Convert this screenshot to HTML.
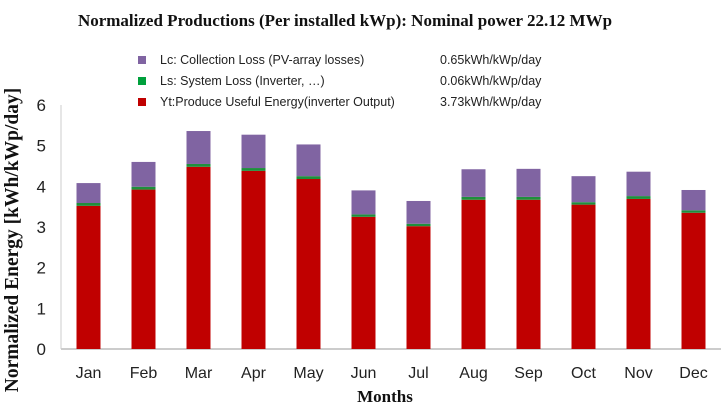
<!DOCTYPE html>
<html><head><meta charset="utf-8"><style>
html,body{margin:0;padding:0;background:#fff;}
body{width:721px;height:404px;overflow:hidden;}
svg text{font-family:"Liberation Sans",sans-serif;}
.serif{font-family:"Liberation Serif",serif;font-weight:bold;}
</style></head><body>
<svg id="chart" width="721" height="404">
<text class="serif" x="345" y="26" text-anchor="middle" font-size="17" fill="#111">Normalized Productions (Per installed kWp): Nominal power 22.12 MWp</text>
<g>
 <g><rect x="138" y="56" width="8" height="8" fill="#8064a2"/><text x="160" y="64" font-size="12.5" fill="#222">Lc: Collection Loss (PV-array losses)</text><text x="440" y="64" font-size="12.5" fill="#222">0.65kWh/kWp/day</text></g>
 <g><rect x="138" y="77" width="8" height="8" fill="#00a03c"/><text x="160" y="85" font-size="12.5" fill="#222">Ls: System Loss (Inverter, …)</text><text x="440" y="85" font-size="12.5" fill="#222">0.06kWh/kWp/day</text></g>
 <g><rect x="138" y="98" width="8" height="8" fill="#c00000"/><text x="160" y="106" font-size="12.5" fill="#222">Yt:Produce Useful Energy(inverter Output)</text><text x="440" y="106" font-size="12.5" fill="#222">3.73kWh/kWp/day</text></g>
</g>
<text class="serif" transform="translate(18,240) rotate(-90)" text-anchor="middle" font-size="19.5" fill="#111">Normalized Energy  [kWh/kWp/day]</text>
<text class="serif" x="385" y="402" text-anchor="middle" font-size="17" fill="#111">Months</text>
<g id="plot"></g>
</svg>
<script>
const months=["Jan","Feb","Mar","Apr","May","Jun","Jul","Aug","Sep","Oct","Nov","Dec"];
const yt=[3.52,3.92,4.48,4.38,4.18,3.25,3.02,3.67,3.67,3.55,3.69,3.35];
const ls=[0.07,0.07,0.07,0.07,0.07,0.06,0.06,0.07,0.07,0.06,0.07,0.06];
const lc=[0.49,0.61,0.81,0.82,0.78,0.59,0.56,0.68,0.69,0.64,0.60,0.50];
const yTicks=[0,1,2,3,4,5,6];
const X0=61,X1=721,Y0=349,Y6=105;
const yS=v=>Y0-(v/6)*(Y0-Y6);
const bw=(X1-X0)/months.length;
const xC=i=>X0+bw*(i+0.5);
const g=document.getElementById('plot');
const NS="http://www.w3.org/2000/svg";
function mk(t,a){const e=document.createElementNS(NS,t);for(const k in a)e.setAttribute(k,a[k]);g.appendChild(e);return e;}
yTicks.forEach(v=>{const t=mk('text',{x:46,y:yS(v)+6,'text-anchor':'end','font-size':17,fill:'#222'});t.textContent=v;

});
const ax=mk('line',{x1:X0,x2:X1,y1:Y0,y2:Y0,stroke:'#bbb','stroke-width':1.5});


const ay=mk('line',{x1:X0,x2:X0,y1:Y6,y2:Y0,stroke:'#ccc','stroke-width':1});


months.forEach((m,i)=>{
 const x=xC(i)-12,w=24;
 const segs=[[0,yt[i],'#c00000','bar-yt-'],[yt[i],yt[i]+ls[i],'#1e8f3c','bar-ls-'],[yt[i]+ls[i],yt[i]+ls[i]+lc[i],'#8064a2','bar-lc-']];
 segs.forEach(s=>{const r=mk('rect',{x:x,y:yS(s[1]),width:w,height:yS(s[0])-yS(s[1]),fill:s[2]});
 
 });
 const t=mk('text',{x:xC(i),y:378,'text-anchor':'middle','font-size':16,fill:'#222'});t.textContent=m;
 
 
});
</script>
</body></html>
